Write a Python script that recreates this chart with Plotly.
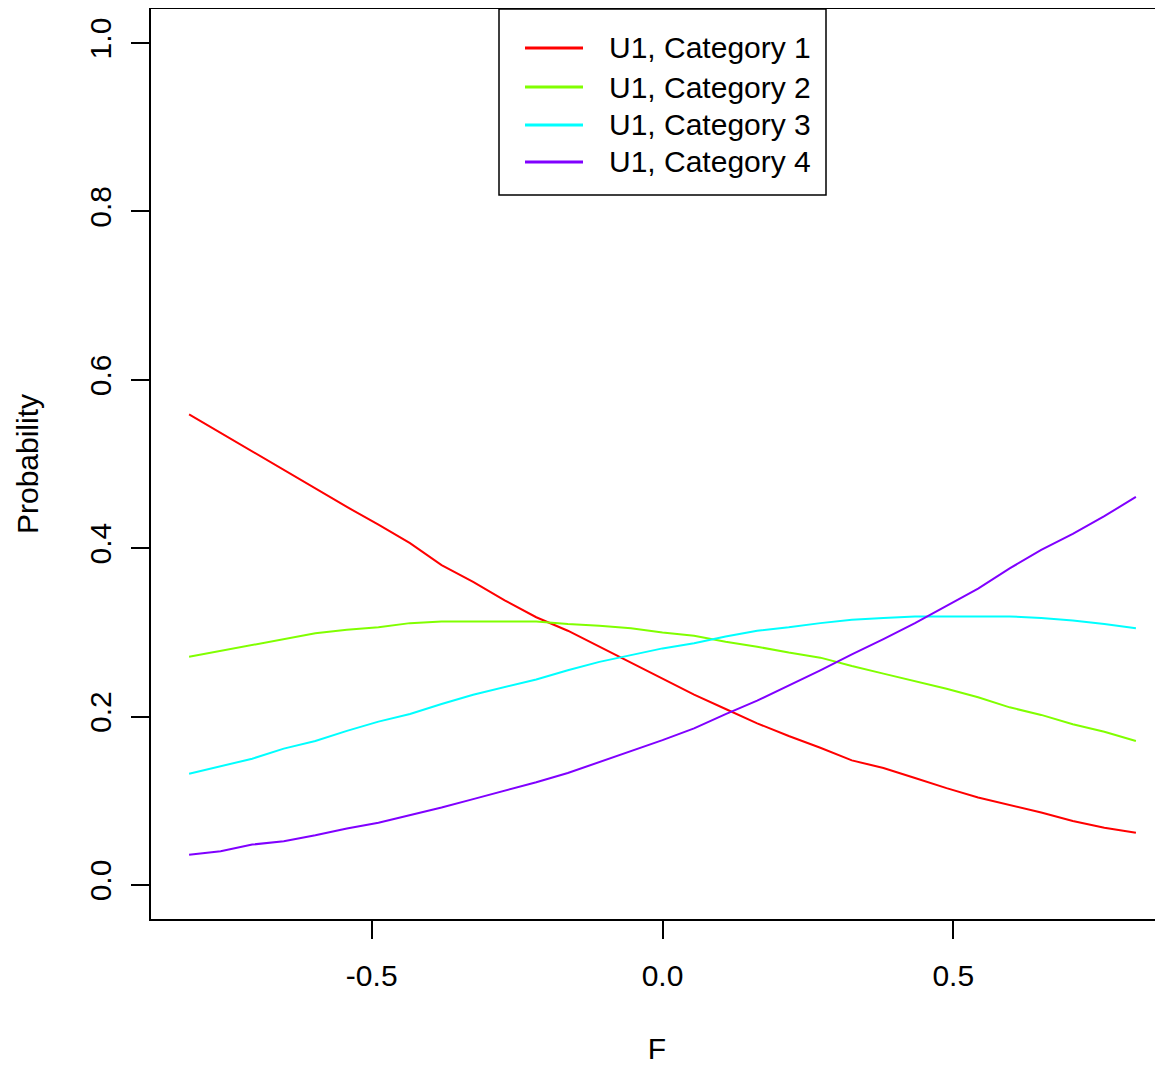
import numpy as np
import plotly.graph_objects as go

# F values (31 evenly spaced points)
F = np.linspace(-0.814, 0.814, 31)

cat1 = [0.559, 0.537, 0.515, 0.493, 0.471, 0.449, 0.428, 0.406, 0.380, 0.360,
        0.338, 0.318, 0.302, 0.283, 0.264, 0.245, 0.226, 0.209, 0.192, 0.177,
        0.163, 0.148, 0.139, 0.127, 0.115, 0.104, 0.095, 0.086, 0.076, 0.068, 0.062]
cat2 = [0.271, 0.278, 0.285, 0.292, 0.299, 0.303, 0.306, 0.311, 0.313, 0.313,
        0.313, 0.313, 0.310, 0.308, 0.305, 0.300, 0.296, 0.289, 0.283, 0.276,
        0.270, 0.260, 0.251, 0.242, 0.233, 0.223, 0.211, 0.202, 0.191, 0.182, 0.171]
cat3 = [0.132, 0.141, 0.150, 0.162, 0.171, 0.183, 0.194, 0.203, 0.215, 0.226,
        0.235, 0.244, 0.255, 0.265, 0.273, 0.281, 0.287, 0.295, 0.302, 0.306,
        0.311, 0.315, 0.317, 0.319, 0.319, 0.319, 0.319, 0.317, 0.314, 0.310, 0.305]
cat4 = [0.036, 0.040, 0.048, 0.052, 0.059, 0.067, 0.074, 0.083, 0.092, 0.102,
        0.112, 0.122, 0.133, 0.146, 0.159, 0.172, 0.186, 0.203, 0.219, 0.237,
        0.255, 0.274, 0.292, 0.311, 0.331, 0.352, 0.376, 0.398, 0.417, 0.438, 0.461]

names = ["U1, Category 1", "U1, Category 2", "U1, Category 3", "U1, Category 4"]
colors = ["#FF0000", "#80FF00", "#00FFFF", "#8000FF"]
series = [cat1, cat2, cat3, cat4]

x_ticks = [-0.5, 0.0, 0.5]
x_ticklabels = ["-0.5", "0.0", "0.5"]
y_ticks = [0.0, 0.2, 0.4, 0.6, 0.8, 1.0]
y_ticklabels = ["0.0", "0.2", "0.4", "0.6", "0.8", "1.0"]

FONT = "Liberation Sans, Arial, sans-serif"
FS = 30

fig = go.Figure()
for n, c, s in zip(names, colors, series):
    fig.add_trace(go.Scatter(x=F, y=s, mode="lines", name=n,
                             line=dict(color=c, width=2), showlegend=False))

# Legend (R-style boxed legend at top centre), in paper coordinates
# (page offset of 8 px from the body margin)
OFF = 8.0
W, H, L, T = 1012.0, 910.0, 151.0, 9.0
px = lambda v: (v - L) / W
py = lambda v: (T + H - v) / H
shapes = [dict(type="rect", xref="paper", yref="paper",
               x0=px(499), x1=px(826), y0=py(195), y1=py(9),
               line=dict(color="black", width=1.5), fillcolor="white", layer="above")]
annotations = []
rows = [48, 87, 125, 162]
for n, c, r in zip(names, colors, rows):
    shapes.append(dict(type="line", xref="paper", yref="paper",
                       x0=px(525), x1=px(583), y0=py(r), y1=py(r),
                       line=dict(color=c, width=3), layer="above"))
    annotations.append(dict(text=n, xref="paper", yref="paper", x=px(607), y=py(r),
                            xanchor="left", yanchor="middle", showarrow=False,
                            font=dict(size=FS, family=FONT, color="black")))

fig.update_layout(
    width=1155, height=1057,
    margin=dict(l=143, r=0, t=1, b=146, pad=0),
    paper_bgcolor="white", plot_bgcolor="white",
    font=dict(family=FONT, size=FS, color="black"),
    showlegend=False,
    shapes=shapes, annotations=annotations,
    xaxis=dict(
        range=[-0.8795, 0.8606], tickmode="array", tickvals=x_ticks,
        ticktext=x_ticklabels, ticks="outside", ticklen=18, tickwidth=1.5,
        tickcolor="black", showline=True, linecolor="black", linewidth=1.5,
        mirror=True, showgrid=False, zeroline=False, automargin=False,
        ticklabelstandoff=11,
        title=dict(text="F", standoff=48, font=dict(size=FS)),
    ),
    yaxis=dict(
        range=[-0.0404, 1.0404], tickmode="array", tickvals=y_ticks,
        ticktext=y_ticklabels, ticks="outside", ticklen=18, tickwidth=1.5,
        tickcolor="black", showline=True, linecolor="black", linewidth=1.5,
        showgrid=False, zeroline=False, tickangle=-90, automargin=False,
        ticklabelstandoff=8,
        title=dict(text="Probability", standoff=37, font=dict(size=FS)),
    ),
)

fig.write_html("out.html")
